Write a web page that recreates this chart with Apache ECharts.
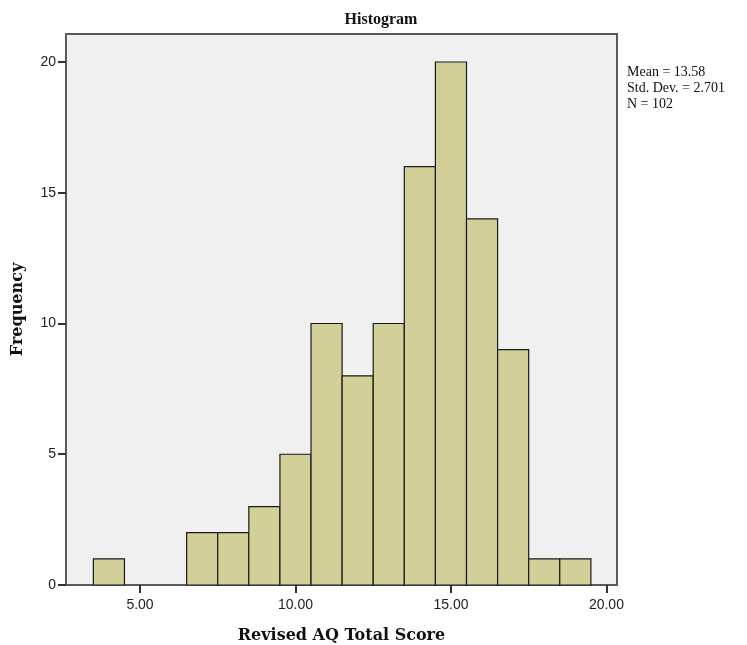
<!DOCTYPE html>
<html>
<head>
<meta charset="utf-8">
<script src="https://cdn.jsdelivr.net/npm/echarts@6/dist/echarts.min.js"></script>
<style>
  html, body { margin: 0; padding: 0; background: #fff; }
  #main { width: 747px; height: 645px; }
</style>
</head>
<body>
<div id="main"></div>
<script>
// bin centres (width 1) and frequencies
var binCenters = [4, 5, 6, 7, 8, 9, 10, 11, 12, 13, 14, 15, 16, 17, 18, 19];
var counts = [1, 0, 0, 2, 2, 3, 5, 10, 8, 10, 16, 20, 14, 9, 1, 1];
var xTicks = [5, 10, 15, 20];
var yTicks = [0, 5, 10, 15, 20];
var statLines = ['Mean = 13.58', 'Std. Dev. = 2.701', 'N = 102'];

var chart = echarts.init(document.getElementById('main'));

var data = [];
binCenters.forEach(function (c, i) {
  data.push([c, counts[i]]);
});

var serif = '"Liberation Serif", "Times New Roman", serif';
var wideSerif = '"DejaVu Serif", "Liberation Serif", serif';
var sans = '"Liberation Sans", Arial, sans-serif';

chart.setOption({
  animation: false,
  title: {
    text: 'Histogram',
    left: 376,
    top: 7,
    textAlign: 'center',
    textStyle: { fontFamily: serif, fontWeight: 'bold', fontSize: 16, color: '#111' }
  },
  grid: {
    left: 66, top: 34, width: 551, height: 551,
    outerBoundsMode: 'none',
    containLabel: false,
    show: true,
    backgroundColor: '#f0f0f0',
    borderColor: '#5a5a5a',
    borderWidth: 2
  },
  xAxis: {
    type: 'value',
    min: 2.62,
    max: 20.34,
    name: 'Revised AQ Total Score',
    nameLocation: 'middle',
    nameGap: 43,
    nameTextStyle: { fontFamily: wideSerif, fontWeight: 'bold', fontSize: 16, color: '#111' },
    splitLine: { show: false },
    axisLine: { show: false },
    axisTick: { show: true, length: 8, customValues: xTicks, lineStyle: { color: '#333', width: 2 } },
    axisLabel: {
      customValues: xTicks,
      margin: 13,
      fontFamily: sans, fontSize: 14, color: '#222',
      formatter: function (v) { return v.toFixed(2); }
    }
  },
  yAxis: {
    type: 'value',
    min: 0,
    max: 21.07,
    name: 'Frequency',
    nameLocation: 'middle',
    nameGap: 40,
    nameTextStyle: { fontFamily: wideSerif, fontWeight: 'bold', fontSize: 16, color: '#111' },
    splitLine: { show: false },
    axisLine: { show: false },
    axisTick: { show: true, length: 8, customValues: yTicks, lineStyle: { color: '#333', width: 2 } },
    axisLabel: {
      customValues: yTicks,
      margin: 10,
      fontFamily: sans, fontSize: 14, color: '#222'
    }
  },
  graphic: statLines.map(function (t, i) {
    return {
      type: 'text',
      left: 627,
      top: 65 + i * 16,
      style: { text: t, fontFamily: serif, fontSize: 14, fill: '#111' }
    };
  }),
  series: [{
    type: 'custom',
    data: data,
    renderItem: function (params, api) {
      var x = api.value(0), y = api.value(1);
      if (!y) return null;
      var p0 = api.coord([x - 0.5, y]);
      var p1 = api.coord([x + 0.5, 0]);
      return {
        type: 'rect',
        shape: { x: p0[0], y: p0[1], width: p1[0] - p0[0], height: p1[1] - p0[1] },
        style: { fill: '#d3cf99', stroke: '#1a1a1a', lineWidth: 1.2 }
      };
    }
  }]
});
</script>
</body>
</html>
